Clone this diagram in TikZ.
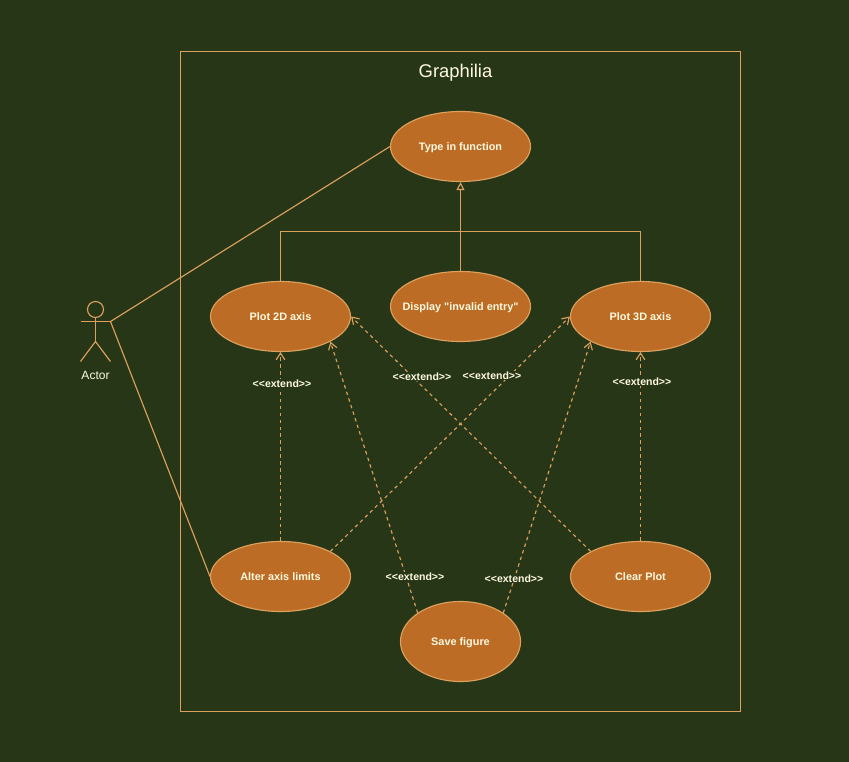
\documentclass[tikz,border=0pt]{standalone}
\usepackage{fontspec}
\setmainfont{Liberation Sans}
\newfontfamily\casefont{Liberation Sans}
\usetikzlibrary{arrows.meta,shapes.geometric}
\definecolor{bgdark}{HTML}{283618}
\definecolor{linetan}{HTML}{DDA15E}
\definecolor{fillrust}{HTML}{BC6C25}
\definecolor{textcream}{HTML}{FEFAE0}
\begin{document}
\begin{tikzpicture}[
  x=0.75pt, y=-0.75pt,
  line width=0.85pt,
  usecase/.style={ellipse, draw=linetan, fill=fillrust, text=textcream, inner xsep=-20pt, inner ysep=0pt, minimum width=105pt, minimum height=52.5pt, text height=7pt, text depth=1pt, font=\casefont\bfseries\fontsize{8.15}{10}\selectfont},
  extendlbl/.style={fill=bgdark, text=textcream, inner sep=0.5pt, font=\bfseries\fontsize{7.9}{9}\selectfont},
  extendline/.style={draw=linetan, dash pattern=on 2.6pt off 2.6pt, -{Straight Barb[length=5pt,width=6.5pt,line width=0.85pt]}},
  genline/.style={draw=linetan, -{Triangle[open,length=6pt,width=6pt,fill=bgdark]}},
  plainline/.style={draw=linetan}
]
\useasboundingbox (0,0) rectangle (849,762);
\fill[bgdark] (0,0) rectangle (849,762);

% System boundary
\node[draw=linetan, line width=0.7pt, inner sep=0pt, minimum width=420.175pt, minimum height=495.025pt] (system) at (460.25,381.45) {};
\node[text=textcream, font=\fontsize{13.8}{16}\selectfont] (title) at (455.5,72.5) {Graphilia};

% Use cases
\node[usecase] (typein) at (460.5,146.5) {Type in function};
\node[usecase] (plottwo) at (280.5,316.5) {Plot 2D axis};
\node[usecase] (invalid) at (460.5,306.5) {Display "invalid entry"};
\node[usecase] (plotthree) at (640.5,316.5) {Plot 3D axis};
\node[usecase] (alter) at (280.5,576.5) {Alter axis limits};
\node[usecase] (clear) at (640.5,576.5) {Clear Plot};
\node[usecase, minimum width=90pt, minimum height=60pt] (save) at (460.5,641.5) {Save figure};

% Actor
\node[circle, draw=linetan, inner sep=0pt, minimum size=12pt] (head) at (95.5,309.5) {};
\coordinate (hip) at (95.5,341.5);
\coordinate (armleft) at (80.5,321.5);
\coordinate (armright) at (110.5,321.5);
\coordinate (footleft) at (80.5,361.5);
\coordinate (footright) at (110.5,361.5);
\draw[plainline] (head.south) -- (hip);
\draw[plainline] (armleft) -- (armright);
\draw[plainline] (footleft) -- (hip) -- (footright);
\node[text=textcream, font=\fontsize{9}{11}\selectfont] (actor) at (95.5,375) {Actor};

% Associations
\draw[plainline] (armright) -- (typein.west);
\draw[plainline] (armright) -- (alter.west);

% Generalisations
\draw[genline] (invalid.north) -- (typein.south);
\draw[plainline] (plottwo.north) |- (460.5,231.5);
\draw[plainline] (plotthree.north) |- (460.5,231.5);

% Extends
\draw[extendline] (alter.north) -- (plottwo.south);
\draw[extendline] (alter.north east) -- (plotthree.west);
\draw[extendline] (save.north west) -- (plottwo.south east);
\draw[extendline] (save.north east) -- (plotthree.south west);
\draw[extendline] (clear.north west) -- (plottwo.east);
\draw[extendline] (clear.north) -- (plotthree.south);

% Extend labels
\node[extendlbl] (lblalter) at (282,383.5) {<{}<extend>{}>};
\node[extendlbl] (lblclear) at (422,376.5) {<{}<extend>{}>};
\node[extendlbl] (lblcross) at (492,375.5) {<{}<extend>{}>};
\node[extendlbl] (lblthree) at (642,381.5) {<{}<extend>{}>};
\node[extendlbl] (lblsavel) at (415,576.5) {<{}<extend>{}>};
\node[extendlbl] (lblsaver) at (514,578.5) {<{}<extend>{}>};
\end{tikzpicture}
\end{document}
